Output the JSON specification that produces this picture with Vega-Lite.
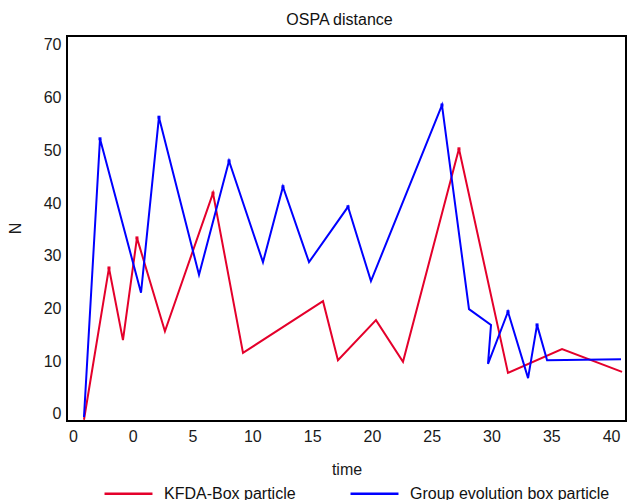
{
  "$schema": "https://vega.github.io/schema/vega-lite/v6.json",
  "width": 559,
  "height": 385,
  "autosize": {"type": "none"},
  "padding": {"left": 67, "top": 36, "right": 2, "bottom": 79},
  "title": {
    "text": "OSPA distance",
    "font": "Liberation Sans",
    "fontSize": 16,
    "fontWeight": "normal",
    "color": "#111111",
    "anchor": "middle",
    "dx": -7,
    "offset": 8
  },
  "config": {
    "font": "Liberation Sans",
    "view": {"stroke": "#000000", "strokeWidth": 2}
  },
  "data": {
    "values": [
      {"series": "KFDA-Box particle", "step": 1, "time": -4.08, "N": -1.1, "peak": false},
      {"series": "KFDA-Box particle", "step": 2, "time": -1.99, "N": 27.7, "peak": true},
      {"series": "KFDA-Box particle", "step": 3, "time": -0.82, "N": 14.0, "peak": false},
      {"series": "KFDA-Box particle", "step": 4, "time": 0.35, "N": 33.4, "peak": true},
      {"series": "KFDA-Box particle", "step": 5, "time": 2.69, "N": 15.7, "peak": false},
      {"series": "KFDA-Box particle", "step": 6, "time": 6.71, "N": 41.9, "peak": true},
      {"series": "KFDA-Box particle", "step": 7, "time": 9.22, "N": 11.6, "peak": false},
      {"series": "KFDA-Box particle", "step": 8, "time": 15.91, "N": 21.4, "peak": false},
      {"series": "KFDA-Box particle", "step": 9, "time": 17.16, "N": 10.2, "peak": false},
      {"series": "KFDA-Box particle", "step": 10, "time": 20.34, "N": 17.8, "peak": false},
      {"series": "KFDA-Box particle", "step": 11, "time": 22.6, "N": 9.9, "peak": false},
      {"series": "KFDA-Box particle", "step": 12, "time": 27.28, "N": 50.3, "peak": true},
      {"series": "KFDA-Box particle", "step": 13, "time": 31.38, "N": 7.8, "peak": false},
      {"series": "KFDA-Box particle", "step": 14, "time": 35.9, "N": 12.3, "peak": false},
      {"series": "KFDA-Box particle", "step": 15, "time": 40.92, "N": 8.0, "peak": false},
      {"series": "Group evolution box particle", "step": 1, "time": -4.08, "N": -0.6, "peak": false},
      {"series": "Group evolution box particle", "step": 2, "time": -2.74, "N": 52.2, "peak": true},
      {"series": "Group evolution box particle", "step": 3, "time": 0.69, "N": 23.0, "peak": false},
      {"series": "Group evolution box particle", "step": 4, "time": 2.19, "N": 56.3, "peak": true},
      {"series": "Group evolution box particle", "step": 5, "time": 5.54, "N": 26.4, "peak": false},
      {"series": "Group evolution box particle", "step": 6, "time": 8.05, "N": 48.0, "peak": true},
      {"series": "Group evolution box particle", "step": 7, "time": 10.89, "N": 28.8, "peak": false},
      {"series": "Group evolution box particle", "step": 8, "time": 12.56, "N": 43.1, "peak": true},
      {"series": "Group evolution box particle", "step": 9, "time": 14.74, "N": 28.8, "peak": false},
      {"series": "Group evolution box particle", "step": 10, "time": 18.0, "N": 39.3, "peak": true},
      {"series": "Group evolution box particle", "step": 11, "time": 19.92, "N": 25.2, "peak": false},
      {"series": "Group evolution box particle", "step": 12, "time": 25.86, "N": 58.6, "peak": true},
      {"series": "Group evolution box particle", "step": 13, "time": 28.12, "N": 19.9, "peak": false},
      {"series": "Group evolution box particle", "step": 14, "time": 29.96, "N": 16.9, "peak": false},
      {"series": "Group evolution box particle", "step": 15, "time": 29.71, "N": 9.5, "peak": false},
      {"series": "Group evolution box particle", "step": 16, "time": 31.38, "N": 19.4, "peak": true},
      {"series": "Group evolution box particle", "step": 17, "time": 33.06, "N": 6.8, "peak": false},
      {"series": "Group evolution box particle", "step": 18, "time": 33.81, "N": 16.9, "peak": true},
      {"series": "Group evolution box particle", "step": 19, "time": 34.65, "N": 10.2, "peak": false},
      {"series": "Group evolution box particle", "step": 20, "time": 40.83, "N": 10.4, "peak": false}
    ]
  },
  "encoding": {
    "x": {
      "field": "time",
      "type": "quantitative",
      "scale": {"domain": [-5.5, 41.25], "nice": false, "zero": false},
      "axis": {
        "values": [-5, 0, 5, 10, 15, 20, 25, 30, 35, 40],
        "labelExpr": "datum.value < 0 ? '0' : datum.label",
        "domain": false,
        "ticks": false,
        "tickSize": 0,
        "grid": false,
        "labelFontSize": 16,
        "labelColor": "#1a1a1a",
        "labelPadding": 7,
        "labelFlush": false,
        "labelOverlap": false,
        "title": "time",
        "titleFontSize": 16,
        "titleFontWeight": "normal",
        "titleColor": "#1a1a1a",
        "titleBaseline": "middle",
        "titleY": 48
      }
    },
    "y": {
      "field": "N",
      "type": "quantitative",
      "scale": {"domain": [-1.33, 71.7], "nice": false, "zero": false},
      "axis": {
        "values": [0, 10, 20, 30, 40, 50, 60, 70],
        "domain": false,
        "ticks": false,
        "tickSize": 0,
        "grid": false,
        "labelFontSize": 16,
        "labelColor": "#1a1a1a",
        "labelPadding": 6,
        "labelFlush": false,
        "labelOverlap": false,
        "title": "N",
        "titleFontSize": 16,
        "titleFontWeight": "normal",
        "titleColor": "#1a1a1a",
        "titleAlign": "center",
        "titleBaseline": "middle",
        "titleX": -52,
        "titleY": 192
      }
    },
    "color": {
      "field": "series",
      "type": "nominal",
      "scale": {
        "domain": ["KFDA-Box particle", "Group evolution box particle"],
        "range": ["#e4002b", "#0000ff"]
      },
      "legend": {
        "title": null,
        "orient": "none",
        "direction": "horizontal",
        "legendX": 36,
        "legendY": 432,
        "padding": 0,
        "symbolType": "stroke",
        "symbolSize": 2300,
        "symbolStrokeWidth": 2.5,
        "labelFontSize": 16,
        "labelColor": "#111111",
        "labelOffset": 10,
        "labelLimit": 400,
        "columnPadding": 49
      }
    }
  },
  "layer": [
    {
      "mark": {"type": "line", "strokeWidth": 2},
      "encoding": {"order": {"field": "step", "type": "quantitative"}}
    },
    {
      "transform": [{"filter": "datum.peak"}],
      "mark": {"type": "point", "shape": "square", "filled": true, "size": 9, "opacity": 1}
    }
  ]
}
